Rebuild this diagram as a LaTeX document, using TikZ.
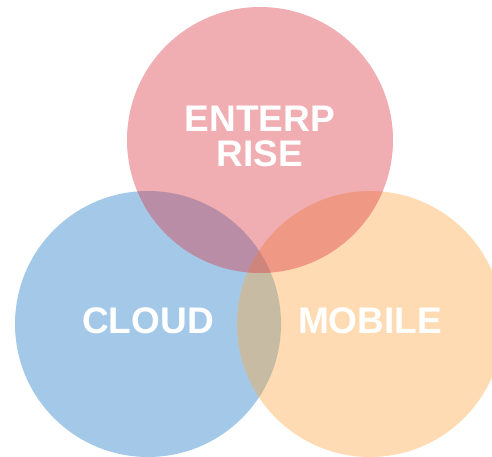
\documentclass[tikz,border=0pt]{standalone}
\usepackage{fontspec}
\setmainfont{Liberation Sans}
\usetikzlibrary{positioning}
\definecolor{cloudblue}{RGB}{28,120,198}
\definecolor{mobileorange}{RGB}{252,165,62}
\definecolor{entpink}{RGB}{217,52,65}
\tikzset{set/.style={circle, minimum size=266pt, inner sep=0pt, fill opacity=0.4, draw=none}}
\tikzset{lbl/.style={text=white, font=\fontsize{37}{35}\selectfont\bfseries, align=center, inner sep=0pt}}

\begin{document}
\begin{tikzpicture}[x=1pt,y=-1pt]
\useasboundingbox (0,0) rectangle (492,457);
\clip (0,0) rectangle (492,457);
\node[set, fill=cloudblue] (cloud) at (148,324) {};
\node[set, fill=mobileorange] (mobile) at (370,324) {};
\node[set, fill=entpink] (ent) at (260,140) {};

\node[lbl, yshift=3.5pt] (entlbl) at (ent) {ENTERP\\RISE};
\node[lbl, yshift=3.5pt] (cloudlbl) at (cloud) {CLOUD};
\node[lbl, yshift=3.5pt] (mobilelbl) at (mobile) {MOBILE};
\end{tikzpicture}
\end{document}
